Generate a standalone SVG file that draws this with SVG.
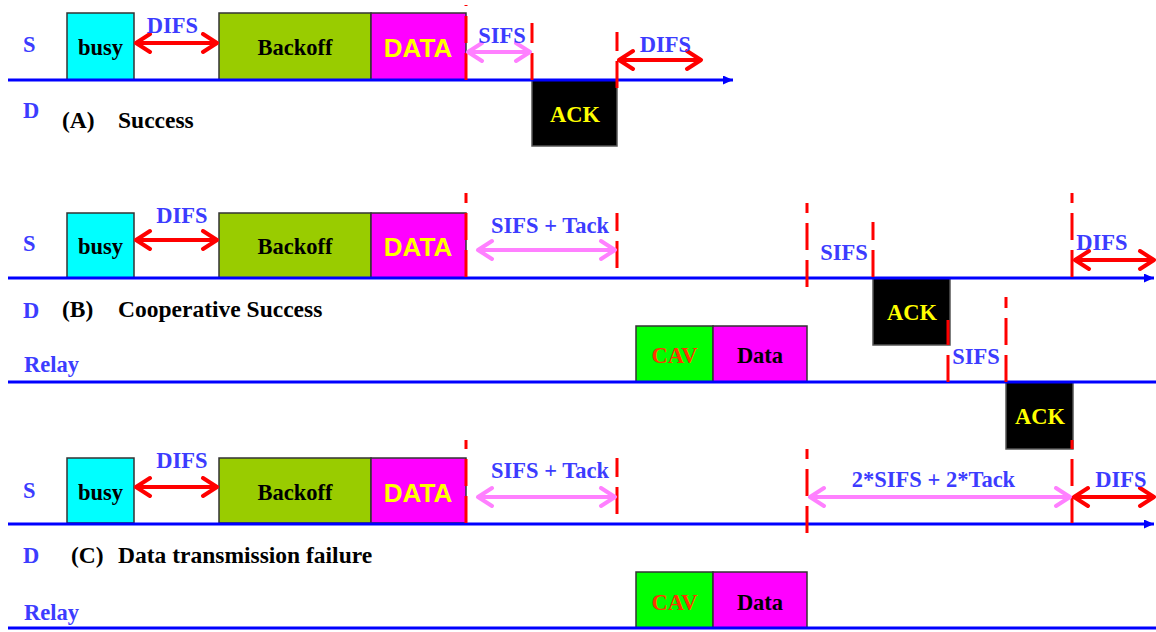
<svg xmlns="http://www.w3.org/2000/svg" width="1156" height="632" viewBox="0 0 1156 632">
  <style>
    .lbl { font-family: "Liberation Serif", "Times New Roman", serif; font-weight: bold; font-size: 22.5px; fill: #3c3cff; }
    .cap { font-family: "Liberation Serif", "Times New Roman", serif; font-weight: bold; font-size: 23.5px; fill: #000000; }
    .itv { font-family: "Liberation Serif", "Times New Roman", serif; font-weight: bold; font-size: 22.5px; fill: #3c3cff; text-anchor: middle; }
    .box { stroke: #333333; stroke-width: 1.5; }
    .txt { font-family: "Liberation Serif", "Times New Roman", serif; font-weight: bold; font-size: 22.5px; text-anchor: middle; fill: #000000; }
    .dat { font-family: "Liberation Sans", Arial, sans-serif; font-weight: bold; font-size: 26px; text-anchor: middle; fill: #ffff00; }
    .ack { fill: #000000; stroke: #555555; stroke-width: 1.5; }
    .ackt { font-family: "Liberation Serif", "Times New Roman", serif; font-weight: bold; font-size: 22.5px; text-anchor: middle; fill: #ffff00; }
    .axis { stroke: #0000ff; stroke-width: 3; fill: none; }
    .axisA { stroke: #0000ff; stroke-width: 3; fill: none; marker-end: url(#axisHead); }
    .tick { stroke: #ff0000; stroke-width: 3; stroke-dasharray: 27 10; fill: none; }
    .difs { stroke: #ff0000; stroke-width: 4; fill: none; marker-start: url(#redHead); marker-end: url(#redHead); }
    .sifs { stroke: #ff80ff; stroke-width: 4; fill: none; marker-start: url(#pinkHead); marker-end: url(#pinkHead); }
  </style>
  <defs>
    <marker id="axisHead" markerUnits="userSpaceOnUse" markerWidth="12" markerHeight="10" refX="10" refY="4.5" orient="auto">
      <path d="M0,0 L10,4.5 L0,9 z" fill="#0000ff"/>
    </marker>
    <marker id="redHead" markerUnits="userSpaceOnUse" markerWidth="24" markerHeight="24" refX="18" refY="11" orient="auto-start-reverse">
      <path d="M4,2 L18,11 L4,20" fill="none" stroke="#ff0000" stroke-width="4" stroke-linecap="round" stroke-linejoin="round"/>
    </marker>
    <marker id="pinkHead" markerUnits="userSpaceOnUse" markerWidth="24" markerHeight="24" refX="18" refY="11" orient="auto-start-reverse">
      <path d="M4,2 L18,11 L4,20" fill="none" stroke="#ff80ff" stroke-width="4" stroke-linecap="round" stroke-linejoin="round"/>
    </marker>
  </defs>

  <rect width="1156" height="632" fill="#ffffff"/>

  <!-- station names and case captions -->
  <g id="labels">
    <text class="lbl" x="23" y="52">S</text>
    <text class="lbl" x="23" y="118">D</text>
    <text class="cap" x="62" y="128">(A)</text>
    <text class="cap" x="118" y="128">Success</text>

    <text class="lbl" x="23" y="251">S</text>
    <text class="lbl" x="23" y="318">D</text>
    <text class="cap" x="62" y="317">(B)</text>
    <text class="cap" x="118" y="317">Cooperative Success</text>
    <text class="lbl" x="24" y="372">Relay</text>

    <text class="lbl" x="23" y="498">S</text>
    <text class="lbl" x="23" y="563">D</text>
    <text class="cap" x="71" y="563">(C)</text>
    <text class="cap" x="118" y="563">Data transmission failure</text>
    <text class="lbl" x="24" y="620">Relay</text>
  </g>

  <!-- case A frames -->
  <g id="a-busy"><rect class="box" x="67" y="13" width="67" height="67" fill="#00ffff"/><text class="txt" x="100.5" y="55">busy</text></g>
  <g id="a-backoff"><rect class="box" x="219" y="13" width="152" height="67" fill="#99cc00"/><text class="txt" x="295" y="55">Backoff</text></g>
  <g id="a-data"><rect class="box" x="371" y="13" width="95" height="67" fill="#ff00ff"/><text class="dat" x="418" y="57">DATA</text></g>
  <g id="a-ack"><rect class="ack" x="532" y="80" width="85" height="66"/><text class="ackt" x="575" y="122">ACK</text></g>

  <!-- case B frames -->
  <g id="b-busy"><rect class="box" x="67" y="213" width="67" height="65" fill="#00ffff"/><text class="txt" x="100.5" y="254">busy</text></g>
  <g id="b-backoff"><rect class="box" x="219" y="213" width="152" height="65" fill="#99cc00"/><text class="txt" x="295" y="254">Backoff</text></g>
  <g id="b-data"><rect class="box" x="371" y="213" width="95" height="65" fill="#ff00ff"/><text class="dat" x="418" y="256">DATA</text></g>
  <g id="b-cav"><rect class="box" x="636" y="326" width="77" height="56" fill="#00ff00"/><text class="txt" x="674.5" y="363" style="fill:#ff3300">CAV</text></g>
  <g id="b-relaydata"><rect class="box" x="713" y="326" width="94" height="56" fill="#ff00ff"/><text class="txt" x="760" y="363">Data</text></g>
  <g id="b-ack1"><rect class="ack" x="873" y="278" width="77" height="67"/><text class="ackt" x="912" y="320">ACK</text></g>
  <g id="b-ack2"><rect class="ack" x="1006" y="382" width="67" height="67"/><text class="ackt" x="1040" y="424">ACK</text></g>

  <!-- case C frames -->
  <g id="c-busy"><rect class="box" x="67" y="458" width="67" height="65" fill="#00ffff"/><text class="txt" x="100.5" y="500">busy</text></g>
  <g id="c-backoff"><rect class="box" x="219" y="458" width="152" height="65" fill="#99cc00"/><text class="txt" x="295" y="500">Backoff</text></g>
  <g id="c-data"><rect class="box" x="371" y="458" width="95" height="65" fill="#ff00ff"/><text class="dat" x="418" y="502">DATA</text></g>
  <g id="c-cav"><rect class="box" x="636" y="572" width="77" height="56" fill="#00ff00"/><text class="txt" x="674.5" y="610" style="fill:#ff3300">CAV</text></g>
  <g id="c-relaydata"><rect class="box" x="713" y="572" width="94" height="56" fill="#ff00ff"/><text class="txt" x="760" y="610">Data</text></g>

  <!-- time axes -->
  <g id="timelines">
    <path class="axisA" d="M8,80 H733"/>
    <path class="axisA" d="M8,278 H1154"/>
    <path class="axis" d="M8,382 H1156"/>
    <path class="axisA" d="M8,524 H1154"/>
    <path class="axis" d="M8,628 H1156"/>
  </g>

  <!-- dashed time marks, drawn bottom-up -->
  <g id="ticks">
    <path class="tick" d="M466,80 V5"/>
    <path class="tick" d="M532,80 V23"/>
    <path class="tick" d="M617,88 V32"/>

    <path class="tick" d="M466,277 V193"/>
    <path class="tick" d="M617,268 V213"/>
    <path class="tick" d="M807,287 V203"/>
    <path class="tick" d="M873,277 V222"/>
    <path class="tick" d="M1072,277 V193"/>
    <path class="tick" d="M948,382 V320"/>
    <path class="tick" d="M1006,382 V297"/>

    <path class="tick" d="M466,523 V440"/>
    <path class="tick" d="M617,514 V458"/>
    <path class="tick" d="M807,533 V449"/>
    <path class="tick" d="M1072,523 V440"/>
  </g>

  <!-- interval connectors -->
  <g id="connectors">
    <path class="difs" d="M136,43 H217"/>
    <path class="sifs" d="M468,52 H530"/>
    <path class="difs" d="M619,60 H701"/>

    <path class="difs" d="M136,240 H217"/>
    <path class="sifs" d="M478,250 H615"/>
    <path class="difs" d="M1075,260 H1154"/>

    <path class="difs" d="M136,487 H217"/>
    <path class="sifs" d="M478,497 H615"/>
    <path class="sifs" d="M810,497 H1070"/>
    <path class="difs" d="M1074,497 H1154"/>
  </g>

  <!-- interval names -->
  <g id="interval-labels">
    <text class="itv" x="172.5" y="33">DIFS</text>
    <text class="itv" x="502" y="43">SIFS</text>
    <text class="itv" x="665.5" y="52">DIFS</text>

    <text class="itv" x="182" y="223">DIFS</text>
    <text class="itv" x="550" y="233">SIFS + Tack</text>
    <text class="itv" x="844" y="260">SIFS</text>
    <text class="itv" x="976" y="364">SIFS</text>
    <text class="itv" x="1102" y="250">DIFS</text>

    <text class="itv" x="182" y="468">DIFS</text>
    <text class="itv" x="550" y="478">SIFS + Tack</text>
    <text class="itv" x="933.5" y="487">2*SIFS + 2*Tack</text>
    <text class="itv" x="1121" y="487">DIFS</text>
  </g>
</svg>
